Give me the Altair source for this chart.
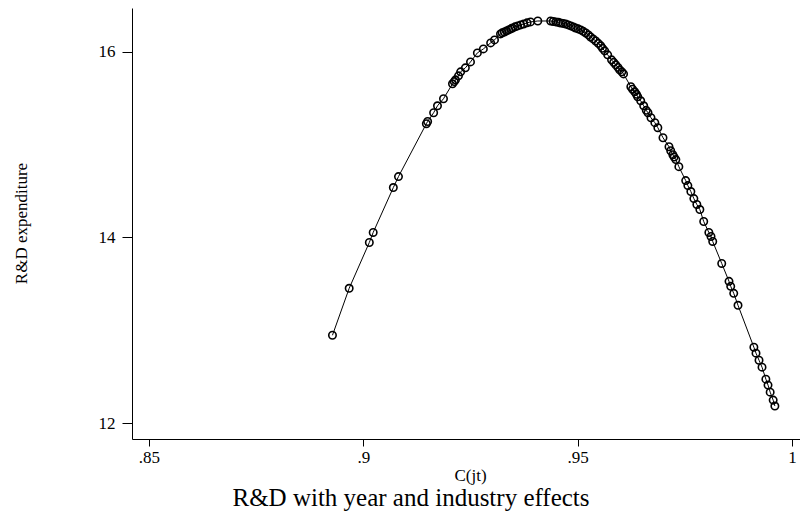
import altair as alt
import pandas as pd

# C(jt) values and fitted R&D expenditure
c_jt = [0.8928, 0.8967, 0.9014, 0.9023, 0.9070, 0.9082, 0.9147, 0.9150, 0.9164, 0.9173, 0.9187,
        0.9208, 0.9212, 0.9215, 0.9222, 0.9227, 0.9238, 0.9250, 0.9266, 0.9280, 0.9297, 0.9306,
        0.9320, 0.9324, 0.9329, 0.9334, 0.9339, 0.9344, 0.9348, 0.9354, 0.9360, 0.9367, 0.9374,
        0.9382, 0.9390, 0.9407, 0.9437, 0.9443, 0.9449, 0.9455, 0.9460, 0.9466, 0.9472, 0.9478,
        0.9484, 0.9490, 0.9495, 0.9501, 0.9507, 0.9513, 0.9519, 0.9525, 0.9530, 0.9536, 0.9542,
        0.9548, 0.9554, 0.9558, 0.9563, 0.9570, 0.9579, 0.9584, 0.9589, 0.9594, 0.9598, 0.9603,
        0.9607, 0.9624, 0.9628, 0.9633, 0.9637, 0.9640, 0.9647, 0.9654, 0.9660, 0.9664, 0.9671,
        0.9680, 0.9687, 0.9699, 0.9713, 0.9717, 0.9722, 0.9725, 0.9729, 0.9736, 0.9752, 0.9757,
        0.9764, 0.9771, 0.9778, 0.9785, 0.9794, 0.9806, 0.9811, 0.9815, 0.9836, 0.9853, 0.9857,
        0.9864, 0.9874, 0.9911, 0.9916, 0.9923, 0.9930, 0.9939, 0.9944, 0.9949, 0.9956, 0.9960]
rd_exp = [12.946, 13.452, 13.946, 14.054, 14.538, 14.656, 15.226, 15.250, 15.344, 15.419, 15.495,
          15.656, 15.680, 15.699, 15.742, 15.785, 15.828, 15.892, 15.989, 16.032, 16.097, 16.129,
          16.194, 16.205, 16.215, 16.226, 16.237, 16.248, 16.258, 16.270, 16.280, 16.291, 16.301,
          16.313, 16.323, 16.333, 16.333, 16.328, 16.323, 16.318, 16.312, 16.307, 16.301, 16.291,
          16.280, 16.269, 16.258, 16.248, 16.237, 16.221, 16.204, 16.183, 16.161, 16.140, 16.118,
          16.092, 16.065, 16.038, 16.011, 15.968, 15.914, 15.887, 15.860, 15.833, 15.806, 15.785,
          15.763, 15.624, 15.597, 15.570, 15.543, 15.516, 15.473, 15.419, 15.370, 15.344, 15.290,
          15.237, 15.183, 15.075, 14.978, 14.935, 14.892, 14.866, 14.839, 14.763, 14.613, 14.559,
          14.495, 14.419, 14.355, 14.301, 14.172, 14.054, 14.011, 13.957, 13.720, 13.527, 13.473,
          13.398, 13.269, 12.817, 12.753, 12.677, 12.602, 12.473, 12.409, 12.333, 12.247, 12.183]

x_ticks = [0.85, 0.9, 0.95, 1.0]
y_ticks = [12, 14, 16]

df = pd.DataFrame({"c": c_jt, "rd": rd_exp})

FONT = "Liberation Serif"

xscale = alt.Scale(domain=[0.84604, 1.00186], nice=False, zero=False)
yscale = alt.Scale(domain=[11.828, 16.473], nice=False, zero=False)

x_enc = alt.X(
    "c:Q", scale=xscale,
    axis=alt.Axis(
        title="C(jt)", values=x_ticks,
        labelExpr="datum.value >= 1 ? '1' : replace(format(datum.value, '.2~f'), '0.', '.')",
        tickSize=7, labelPadding=3, titleX=338, titleY=41, titleBaseline="alphabetic",
        titleAlign="center",
    ),
)
y_enc = alt.Y(
    "rd:Q", scale=yscale,
    axis=alt.Axis(
        title="R&D expenditure", values=y_ticks, format="d",
        tickSize=10, labelPadding=7, labelAngle=0,
        titleX=-106, titleY=215, titleAngle=-90, titleBaseline="alphabetic",
        titleAlign="center",
    ),
)

line = alt.Chart(df).mark_line(color="black", strokeWidth=1).encode(x=x_enc, y=y_enc)
pts = alt.Chart(df).mark_point(
    shape="circle", filled=False, color="black", size=55, strokeWidth=1.6, opacity=1
).encode(x=x_enc, y=y_enc)

chart = (
    alt.layer(line, pts)
    .properties(
        width=668, height=431,
        autosize=alt.AutoSizeParams(type="none"),
        padding={"left": 124, "top": 0, "right": 0, "bottom": 76},
        title=alt.TitleParams(
            "R&D with year and industry effects", orient="bottom", anchor="middle",
            font=FONT, fontSize=25, fontWeight="normal", color="black", offset=3, dx=-55,
        ),
    )
    .configure_view(stroke=None)
    .configure_axis(
        grid=False, domainColor="black", tickColor="black", domainWidth=1, tickWidth=1,
        labelFont=FONT, titleFont=FONT, labelFontSize=17, titleFontSize=17,
        labelColor="black", titleColor="black", titleFontWeight="normal",
    )
)

chart.save("out.html", embed_options={"renderer": "svg", "actions": False})
